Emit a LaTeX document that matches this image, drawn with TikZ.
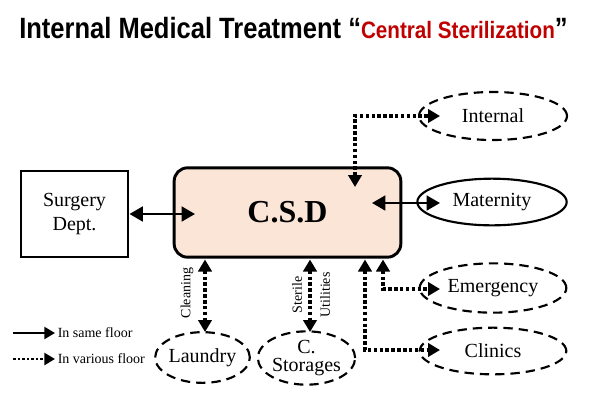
\documentclass[tikz,border=0pt]{standalone}
\usepackage{fontspec}
\setmainfont{Liberation Serif}
\newfontfamily\titlefont{Liberation Sans}
\usetikzlibrary{arrows.meta,shapes.geometric}
\definecolor{csdfill}{RGB}{251,229,214}
\definecolor{titlered}{RGB}{192,0,0}
\begin{document}
\begin{tikzpicture}[x=0.75pt,y=-0.75pt,
  boxstyle/.style={draw,line width=2.2pt,inner sep=0pt,font=\fontsize{15}{18.5}\selectfont,align=center},
  solidellipse/.style={ellipse,draw,line width=1.6pt,inner sep=-10pt,font=\fontsize{15}{13.5}\selectfont,align=center},
  dashellipse/.style={solidellipse,dash pattern=on 7pt off 4.5pt},
  solidarrow/.style={line width=2pt,{Triangle[length=10pt,width=11pt]}-{Triangle[length=10pt,width=11pt]}},
  dotarrow/.style={line width=2.4pt,dash pattern=on 2.6pt off 1.8pt,{Triangle[length=9pt,width=10pt]}-{Triangle[length=9pt,width=10pt]}},
  legsolid/.style={line width=1.6pt,-{Triangle[length=8pt,width=9pt]}},
  legdot/.style={line width=1.8pt,dash pattern=on 2pt off 1.4pt,-{Triangle[length=8pt,width=9pt]}},
  smalllabel/.style={font=\fontsize{10.5}{12}\selectfont,inner sep=0pt}
]
\path[use as bounding box] (0,0) rectangle (589,415);

% title
\node[anchor=base west,inner sep=0pt] (title) at (19,38.5)
  {\scalebox{0.87}[1]{\titlefont\fontsize{22}{26}\selectfont\bfseries Internal Medical Treatment “{\color{titlered}\fontsize{17.8}{20}\selectfont Central Sterilization}”}};

% main boxes
\node[boxstyle,rounded corners=10pt,fill=csdfill,minimum width=170pt,minimum height=67pt,
      font=\fontsize{24}{26}\selectfont\bfseries] (csd) at (287.5,212.5) {C.S.D};
\node[boxstyle,minimum width=80.25pt,minimum height=64.5pt] (surg) at (74.5,214) {Surgery\\Dept.};

% ellipses
\node[dashellipse,minimum width=111pt,minimum height=36pt] (int) at (493,116) {Internal};
\node[solidellipse,minimum width=112pt,minimum height=35pt] (mat) at (492,202) {Maternity};
\node[dashellipse,minimum width=110pt,minimum height=37pt] (emer) at (493,288) {Emergency};
\node[dashellipse,minimum width=110pt,minimum height=35pt] (clin) at (493,351) {Clinics};
\node[dashellipse,minimum width=71pt,minimum height=38pt] (laun) at (202.5,357.5) {Laundry};
\node[dashellipse,minimum width=73pt,minimum height=40pt] (stor) at (306.5,358) {C.\\Storages};

% connector end points
\coordinate (csdSurg) at (195,214);
\coordinate (csdMat) at (372,203);
\coordinate (matTip) at (440,203);
\coordinate (csdInt) at (355,187);
\coordinate (intTip) at (440,116);
\coordinate (csdEm) at (383,259.5);
\coordinate (emTip) at (440,289);
\coordinate (csdCl) at (365,259.5);
\coordinate (clTip) at (440,350);
\coordinate (csdLa) at (205,259.5);
\coordinate (laTip) at (205,332);
\coordinate (csdSt) at (310,259.5);
\coordinate (stTip) at (310,332);

% connectors
\draw[solidarrow] (surg.east) -- (csdSurg);
\draw[solidarrow] (csdMat) -- (matTip);
\draw[dotarrow] (csdInt) |- (intTip);
\draw[dotarrow] (csdEm) |- (emTip);
\draw[dotarrow] (csdCl) |- (clTip);
\draw[dotarrow] (csdLa) -- (laTip);
\draw[dotarrow] (csdSt) -- (stTip);

% connector labels
\node[smalllabel,rotate=90] (lblClean) at (187,293) {Cleaning};
\node[smalllabel,rotate=90] (lblSter) at (297,295) {Sterile};
\node[smalllabel,rotate=90] (lblUtil) at (325,295) {Utilities};

% legend
\coordinate (lgA1) at (13,333);
\coordinate (lgA2) at (55,333);
\coordinate (lgB1) at (13,359);
\coordinate (lgB2) at (55,359);
\draw[legsolid] (lgA1) -- (lgA2);
\draw[legdot] (lgB1) -- (lgB2);
\node[smalllabel,anchor=west] (lgT1) at (57.5,333) {In same floor};
\node[smalllabel,anchor=west] (lgT2) at (57.5,359) {In various floor};
\end{tikzpicture}
\end{document}
